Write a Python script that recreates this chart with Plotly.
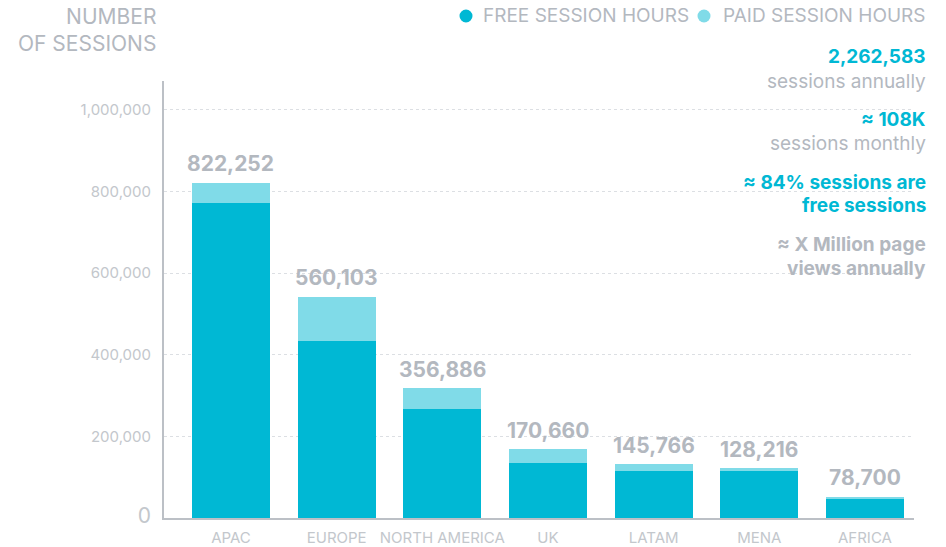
import plotly.graph_objects as go

regions = ["APAC", "EUROPE", "NORTH AMERICA", "UK", "LATAM", "MENA", "AFRICA"]
free_sessions = [773000, 434000, 267000, 135000, 115000, 115000, 46500]
paid_sessions = [49000, 108000, 51500, 34000, 17000, 7500, 5000]
total_labels = ["822,252", "560,103", "356,886", "170,660", "145,766", "128,216", "78,700"]
series_names = ["FREE SESSION HOURS", "PAID SESSION HOURS"]
y_tick_values = [0, 200000, 400000, 600000, 800000, 1000000]
y_tick_labels = ["0", "200,000", "400,000", "600,000", "800,000", "1,000,000"]
stat_lines = [
    ("2,262,583", "cyan", True),
    ("sessions annually", "grey", False),
    ("≈ 108K", "cyan", True),
    ("sessions monthly", "grey", False),
    ("≈ 84% sessions are", "cyan", True),
    ("free sessions", "cyan", True),
    ("≈ X Million page", "grey", True),
    ("views annually", "grey", True),
]
stat_pixel_y = [57, 81, 119, 143, 182, 205, 244, 268]

FREE = "#00b8d4"
PAID = "#80dbe8"
GREY = "#b3b8bf"
LIGHT = "#c3c7cc"
AXIS = "#bcc0c6"
FONT = "Inter"

W, H = 946, 547
L, R, T, B = 164, 32, 81, 29
pw = W - L - R
ph = H - T - B


def px(x):
    return (x - L) / pw


def py(y):
    return (H - B - y) / ph


fig = go.Figure()
fig.add_trace(go.Bar(x=regions, y=free_sessions, name=series_names[0], marker_color=FREE,
                     marker_line_width=0, width=0.74, showlegend=False))
fig.add_trace(go.Bar(x=regions, y=paid_sessions, name=series_names[1], marker_color=PAID,
                     marker_line_width=0, width=0.74, showlegend=False))

annotations = []
for r, f, p, lab in zip(regions, free_sessions, paid_sessions, total_labels):
    annotations.append(dict(x=r, y=f + p, xref="x", yref="y", text=f"<b>{lab}</b>",
                            showarrow=False, yanchor="middle", yshift=19,
                            font=dict(family=FONT, size=21, color=GREY)))

for (txt, col, bold), yy in zip(stat_lines, stat_pixel_y):
    annotations.append(dict(x=px(928), y=py(yy), xref="paper", yref="paper",
                            text=f"<b>{txt}</b>" if bold else txt, showarrow=False,
                            xanchor="right", yanchor="middle",
                            font=dict(family=FONT, size=19, color=FREE if col == "cyan" else GREY)))

annotations.append(dict(x=px(158), y=py(30), xref="paper", yref="paper",
                        text="NUMBER<br>OF SESSIONS", showarrow=False, align="right",
                        xanchor="right", yanchor="middle",
                        font=dict(family=FONT, size=21, color=GREY)))

# legend drawn as circle + text
legend_text_right = [691, 928]
legend_dot_x = [466, 704]
legend_colors = [FREE, PAID]
shapes = []
for name, tx, dx, c in zip(series_names, legend_text_right, legend_dot_x, legend_colors):
    annotations.append(dict(x=px(tx), y=py(16), xref="paper", yref="paper", text=name,
                            showarrow=False, xanchor="right", yanchor="middle",
                            font=dict(family=FONT, size=19, color=GREY)))
    shapes.append(dict(type="circle", xref="paper", yref="paper",
                       x0=px(dx - 6.5), x1=px(dx + 6.5), y0=py(16 + 6.5), y1=py(16 - 6.5),
                       fillcolor=c, line=dict(width=0)))

tick_text = [f'<span style="font-size:21px">{t}</span>' if t == "0" else t for t in y_tick_labels]

fig.update_layout(
    width=W, height=H,
    margin=dict(l=L, r=R, t=T, b=B, pad=0),
    barmode="stack",
    showlegend=False,
    plot_bgcolor="white", paper_bgcolor="white",
    font=dict(family=FONT, color=GREY),
    annotations=annotations,
    shapes=shapes,
    xaxis=dict(range=[-0.634, 6.464], showgrid=False, showline=True, linecolor=AXIS,
               linewidth=2, ticks="", tickfont=dict(family=FONT, size=15, color=LIGHT),
               ticklabelstandoff=5,
               zeroline=False, fixedrange=True, automargin=False),
    yaxis=dict(range=[0, 1071000], tickvals=y_tick_values, ticktext=tick_text,
               showline=True, linecolor=AXIS, linewidth=2, showgrid=True,
               gridcolor="#dcdfe3", griddash="dot", gridwidth=1, zeroline=False,
               tickfont=dict(family=FONT, size=15, color=LIGHT), ticks="",
               ticklabelstandoff=8, fixedrange=True, automargin=False),
)

fig.write_html("out.html", include_plotlyjs=True, config={"displayModeBar": False},
               post_script="document.body.style.margin='0';")
